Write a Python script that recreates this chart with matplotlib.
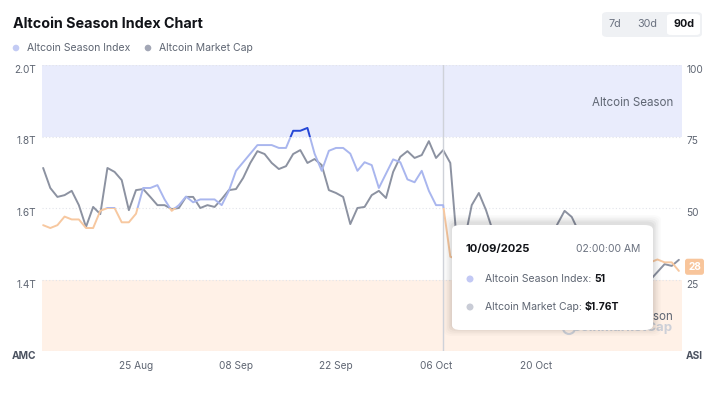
import matplotlib
matplotlib.use("Agg")
import matplotlib.pyplot as plt
import matplotlib.transforms as mtransforms
import numpy as np
import pandas as pd
from matplotlib.patches import Rectangle, FancyBboxPatch, Ellipse

plt.rcParams['font.family'] = ['Inter', 'DejaVu Sans']

# ---------------- data ----------------
dates = pd.date_range("2025-08-12", periods=90, freq="D")

market_cap_t = [
    1.712, 1.656, 1.631, 1.636, 1.648, 1.608, 1.547, 1.603, 1.583, 1.712,
    1.701, 1.678, 1.594, 1.650, 1.653, 1.631, 1.608, 1.608, 1.597, 1.600,
    1.631, 1.631, 1.600, 1.608, 1.603, 1.625, 1.650, 1.653, 1.684, 1.726,
    1.759, 1.751, 1.726, 1.709, 1.717, 1.751, 1.762, 1.726, 1.737, 1.720,
    1.650, 1.642, 1.631, 1.555, 1.600, 1.603, 1.636, 1.648, 1.628, 1.701,
    1.743, 1.759, 1.740, 1.748, 1.787, 1.740, 1.762, 1.726, 1.483, 1.510,
    1.608, 1.642, 1.594, 1.533, 1.497, 1.483, 1.488, 1.477, 1.469, 1.483,
    1.497, 1.516, 1.555, 1.592, 1.575, 1.533, 1.497, 1.469, 1.449, 1.432,
    1.421, 1.410, 1.399, 1.393, 1.387, 1.399, 1.421, 1.443, 1.438, 1.455,
]

season_index = [
    44, 43, 44, 47, 46, 46, 43, 43, 49, 50,
    50, 45, 45, 48, 57, 57, 58, 53, 49, 51,
    54, 52, 53, 53, 53, 51, 56, 63, 66, 69,
    72, 72, 72, 71, 71, 77, 77, 78, 69, 63,
    70, 71, 71, 69, 63, 66, 65, 57, 62, 67,
    66, 60, 59, 63, 56, 51, 51, 33, 32, 31,
    31, 30, 29, 29, 30, 31, 30, 30, 29, 28,
    29, 30, 30, 30, 29, 28, 29, 30, 30, 31,
    31, 32, 31, 31, 31, 31, 32, 31, 31, 28,
]

x_tick_dates = pd.to_datetime(["2025-08-25", "2025-09-08", "2025-09-22",
                               "2025-10-06", "2025-10-20"])
x_tick_labels = ["25 Aug", "08 Sep", "22 Sep", "06 Oct", "20 Oct"]
mc_ticks = [1.2, 1.4, 1.6, 1.8, 2.0]
mc_tick_labels = ["AMC", "1.4T", "1.6T", "1.8T", "2.0T"]
asi_ticks = [0, 25, 50, 75, 100]
asi_tick_labels = ["ASI", "25", "50", "75", "100"]
legend_labels = ["Altcoin Season Index", "Altcoin Market Cap"]
range_buttons = ["7d", "30d", "90d"]
title = "Altcoin Season Index Chart"
tooltip_idx = 56
tooltip_date = "10/09/2025"
tooltip_time = "02:00:00 AM"

# ---------------- styles ----------------
W, H = 716, 398
C_GRAY_LINE = "#8c92a1"
C_BLUE_LIGHT = "#a9b6ee"
C_BLUE_DARK = "#2547d6"
C_ORANGE = "#f7c8a0"
C_BAND_BLUE = "#e9ecfc"
C_BAND_ORANGE = "#fff1e7"
C_TEXT = "#5f6673"
C_GRID = "#e2e4ea"

fig = plt.figure(figsize=(W / 100, H / 100), dpi=100)
fig.patch.set_facecolor("white")


def fx(x):
    return x / W


def fy(y):
    return 1 - y / H


def dot(x, y, r, col, z=5):
    fig.patches.append(Ellipse((fx(x), fy(y)), 2 * r / W, 2 * r / H,
                               transform=fig.transFigure, fc=col, ec="none",
                               zorder=z))


ax1 = fig.add_axes([fx(42), fy(351), (682 - 42) / W, (351 - 65) / H])
ax2 = ax1.twinx()
ax2.set_position(ax1.get_position())
ax1.set_zorder(1)
ax2.set_zorder(2)
ax2.patch.set_visible(False)

x0 = pd.Timestamp("2025-08-11 20:10")
x1 = pd.Timestamp("2025-11-09 10:30")
ax1.set_xlim(x0, x1)
ax1.set_ylim(1.2, 2.0)
ax2.set_ylim(0, 100)

# bands (on ax1, behind lines)
ax1.axhspan(1.8, 2.0, color=C_BAND_BLUE, zorder=0, lw=0)
ax1.axhspan(1.2, 1.4, color=C_BAND_ORANGE, zorder=0, lw=0)
for v in mc_ticks:
    ax1.axhline(v, color=C_GRID, lw=0.8, linestyle=(0, (1, 2)), zorder=0.5)

# market cap line
ax1.plot(dates, market_cap_t, color=C_GRAY_LINE, lw=1.4, zorder=3,
         solid_joinstyle="round", solid_capstyle="round")

# season index line, coloured by zone
blend = mtransforms.blended_transform_factory(ax2.transAxes, ax2.transData)
zones = [(0, 50, C_ORANGE), (50, 75, C_BLUE_LIGHT), (75, 100, C_BLUE_DARK)]
for lo, hi, col in zones:
    ln, = ax2.plot(dates, season_index, color=col, lw=1.4, zorder=3,
                   solid_joinstyle="round", solid_capstyle="round")
    clip = Rectangle((0, lo), 1, hi - lo, transform=blend)
    ln.set_clip_path(clip)

# vertical hover line
ax2.axvline(dates[tooltip_idx], color="#cfd2d9", lw=1, zorder=2)

# axes styling
for a in (ax1, ax2):
    for s in a.spines.values():
        s.set_visible(False)
ax1.set_xticks(x_tick_dates)
ax1.set_xticklabels(x_tick_labels)
ax1.tick_params(axis="x", length=0, pad=7, labelsize=7.3, labelcolor=C_TEXT)
ax1.set_yticks(mc_ticks)
ax1.set_yticklabels(mc_tick_labels)
ax1.tick_params(axis="y", length=0, pad=4, labelsize=7.3, labelcolor=C_TEXT)
ax2.set_yticks(asi_ticks)
ax2.set_yticklabels(asi_tick_labels)
ax2.tick_params(axis="y", length=0, pad=3, labelsize=7.3, labelcolor=C_TEXT)
for lbl in ax1.get_yticklabels() + ax2.get_yticklabels():
    lbl.set_va("top")
for lbl in (ax1.get_yticklabels()[0], ax2.get_yticklabels()[0]):
    lbl.set_fontweight("bold")
    lbl.set_color("#4b5260")

# last value badge
last = season_index[-1]
ax2.annotate(str(last), xy=(1.0, last), xycoords=("axes fraction", "data"),
             xytext=(9, 3), textcoords="offset points", ha="center", va="center",
             fontsize=7.3, color="white", fontweight="bold", zorder=5,
             bbox=dict(boxstyle="round,pad=0.3,rounding_size=0.25",
                       fc="#f8c59b", ec="none"), annotation_clip=False)

# ---------------- title, legend, buttons ----------------
fig.text(fx(13), fy(24), title, fontsize=10.3, fontweight="bold",
         color="#111318", ha="left", va="center")
leg_x = [16, 148]
leg_col = ["#c3cbf4", "#a3a7b6"]
for lx, lab, col in zip(leg_x, legend_labels, leg_col):
    dot(lx, 48, 3.3, col)
    fig.text(fx(lx + 11), fy(48), lab, fontsize=7.5, color=C_TEXT, ha="left",
             va="center")

fig.patches.append(FancyBboxPatch((fx(602), fy(37)), fx(100), 25 / H,
                                  boxstyle="round,pad=0,rounding_size=0.008",
                                  transform=fig.transFigure, fc="#eff1f4",
                                  ec="none"))
fig.patches.append(FancyBboxPatch((fx(667), fy(35)), fx(33), 21 / H,
                                  boxstyle="round,pad=0,rounding_size=0.006",
                                  transform=fig.transFigure, fc="white",
                                  ec="none"))
btn_x = [615, 647, 684]
for bx, lab in zip(btn_x, range_buttons):
    bold = lab == range_buttons[-1]
    fig.text(fx(bx), fy(24), lab, fontsize=7.8, ha="center", va="center",
             color="#111318" if bold else "#6b7280",
             fontweight="bold" if bold else "normal")

# band label
fig.text(fx(673), fy(103), "Altcoin Season", fontsize=8.3, color=C_TEXT,
         ha="right", va="center", zorder=5)

# ---------------- watermark / bitcoin season (mostly covered) ----------------
fig.text(fx(673), fy(317), "Bitcoin Season", fontsize=8.3, color=C_TEXT,
         ha="right", va="center", zorder=5)
fig.text(fx(673), fy(328), "CoinMarketCap", fontsize=9.5, color="#cdd0d8",
         ha="right", va="center", fontweight="bold", zorder=5)
fig.patches.append(Ellipse((fx(569), fy(328)), 12 / W, 12 / H,
                           transform=fig.transFigure, fc="none", ec="#cdd0d8",
                           lw=1.5, zorder=5))

# ---------------- tooltip ----------------
tx0, ty0, tw, th = 452, 225, 201, 105
for k, a in enumerate([0.035, 0.03, 0.025, 0.02, 0.015]):
    pad = (k + 1) * 1.6
    fig.patches.append(FancyBboxPatch((fx(tx0 - pad), fy(ty0 + th + pad - 2)),
                                      fx(tw + 2 * pad), (th + 2 * pad) / H,
                                      boxstyle="round,pad=0,rounding_size=0.012",
                                      transform=fig.transFigure, fc="black",
                                      alpha=a, ec="none", zorder=8))
fig.patches.append(FancyBboxPatch((fx(tx0), fy(ty0 + th)), fx(tw), th / H,
                                  boxstyle="round,pad=0,rounding_size=0.012",
                                  transform=fig.transFigure, fc="white",
                                  ec="none", zorder=9))
fig.text(fx(465), fy(249), tooltip_date, fontsize=8, fontweight="bold",
         color="#111318", ha="left", va="center", zorder=10)
fig.text(fx(640), fy(249), tooltip_time, fontsize=7.5, color="#6b7280",
         ha="right", va="center", zorder=10)
rows = [(279, legend_labels[0], str(season_index[tooltip_idx]), "#c3c9f4"),
        (307, legend_labels[1], f"${market_cap_t[tooltip_idx]:.2f}T", "#c9ccd6")]
for ry, lab, val, col in rows:
    dot(470, ry, 3.5, col, z=10)
    t = fig.text(fx(485), fy(ry), lab + ": ", fontsize=7.5, color="#5f6673",
                 ha="left", va="center", zorder=10)
    fig.canvas.draw()
    bb = t.get_window_extent()
    fig.text(bb.x1 / W, fy(ry), val, fontsize=7.5, fontweight="bold",
             color="#111318", ha="left", va="center", zorder=10)

fig.savefig("out.png", dpi=100, facecolor="white")
